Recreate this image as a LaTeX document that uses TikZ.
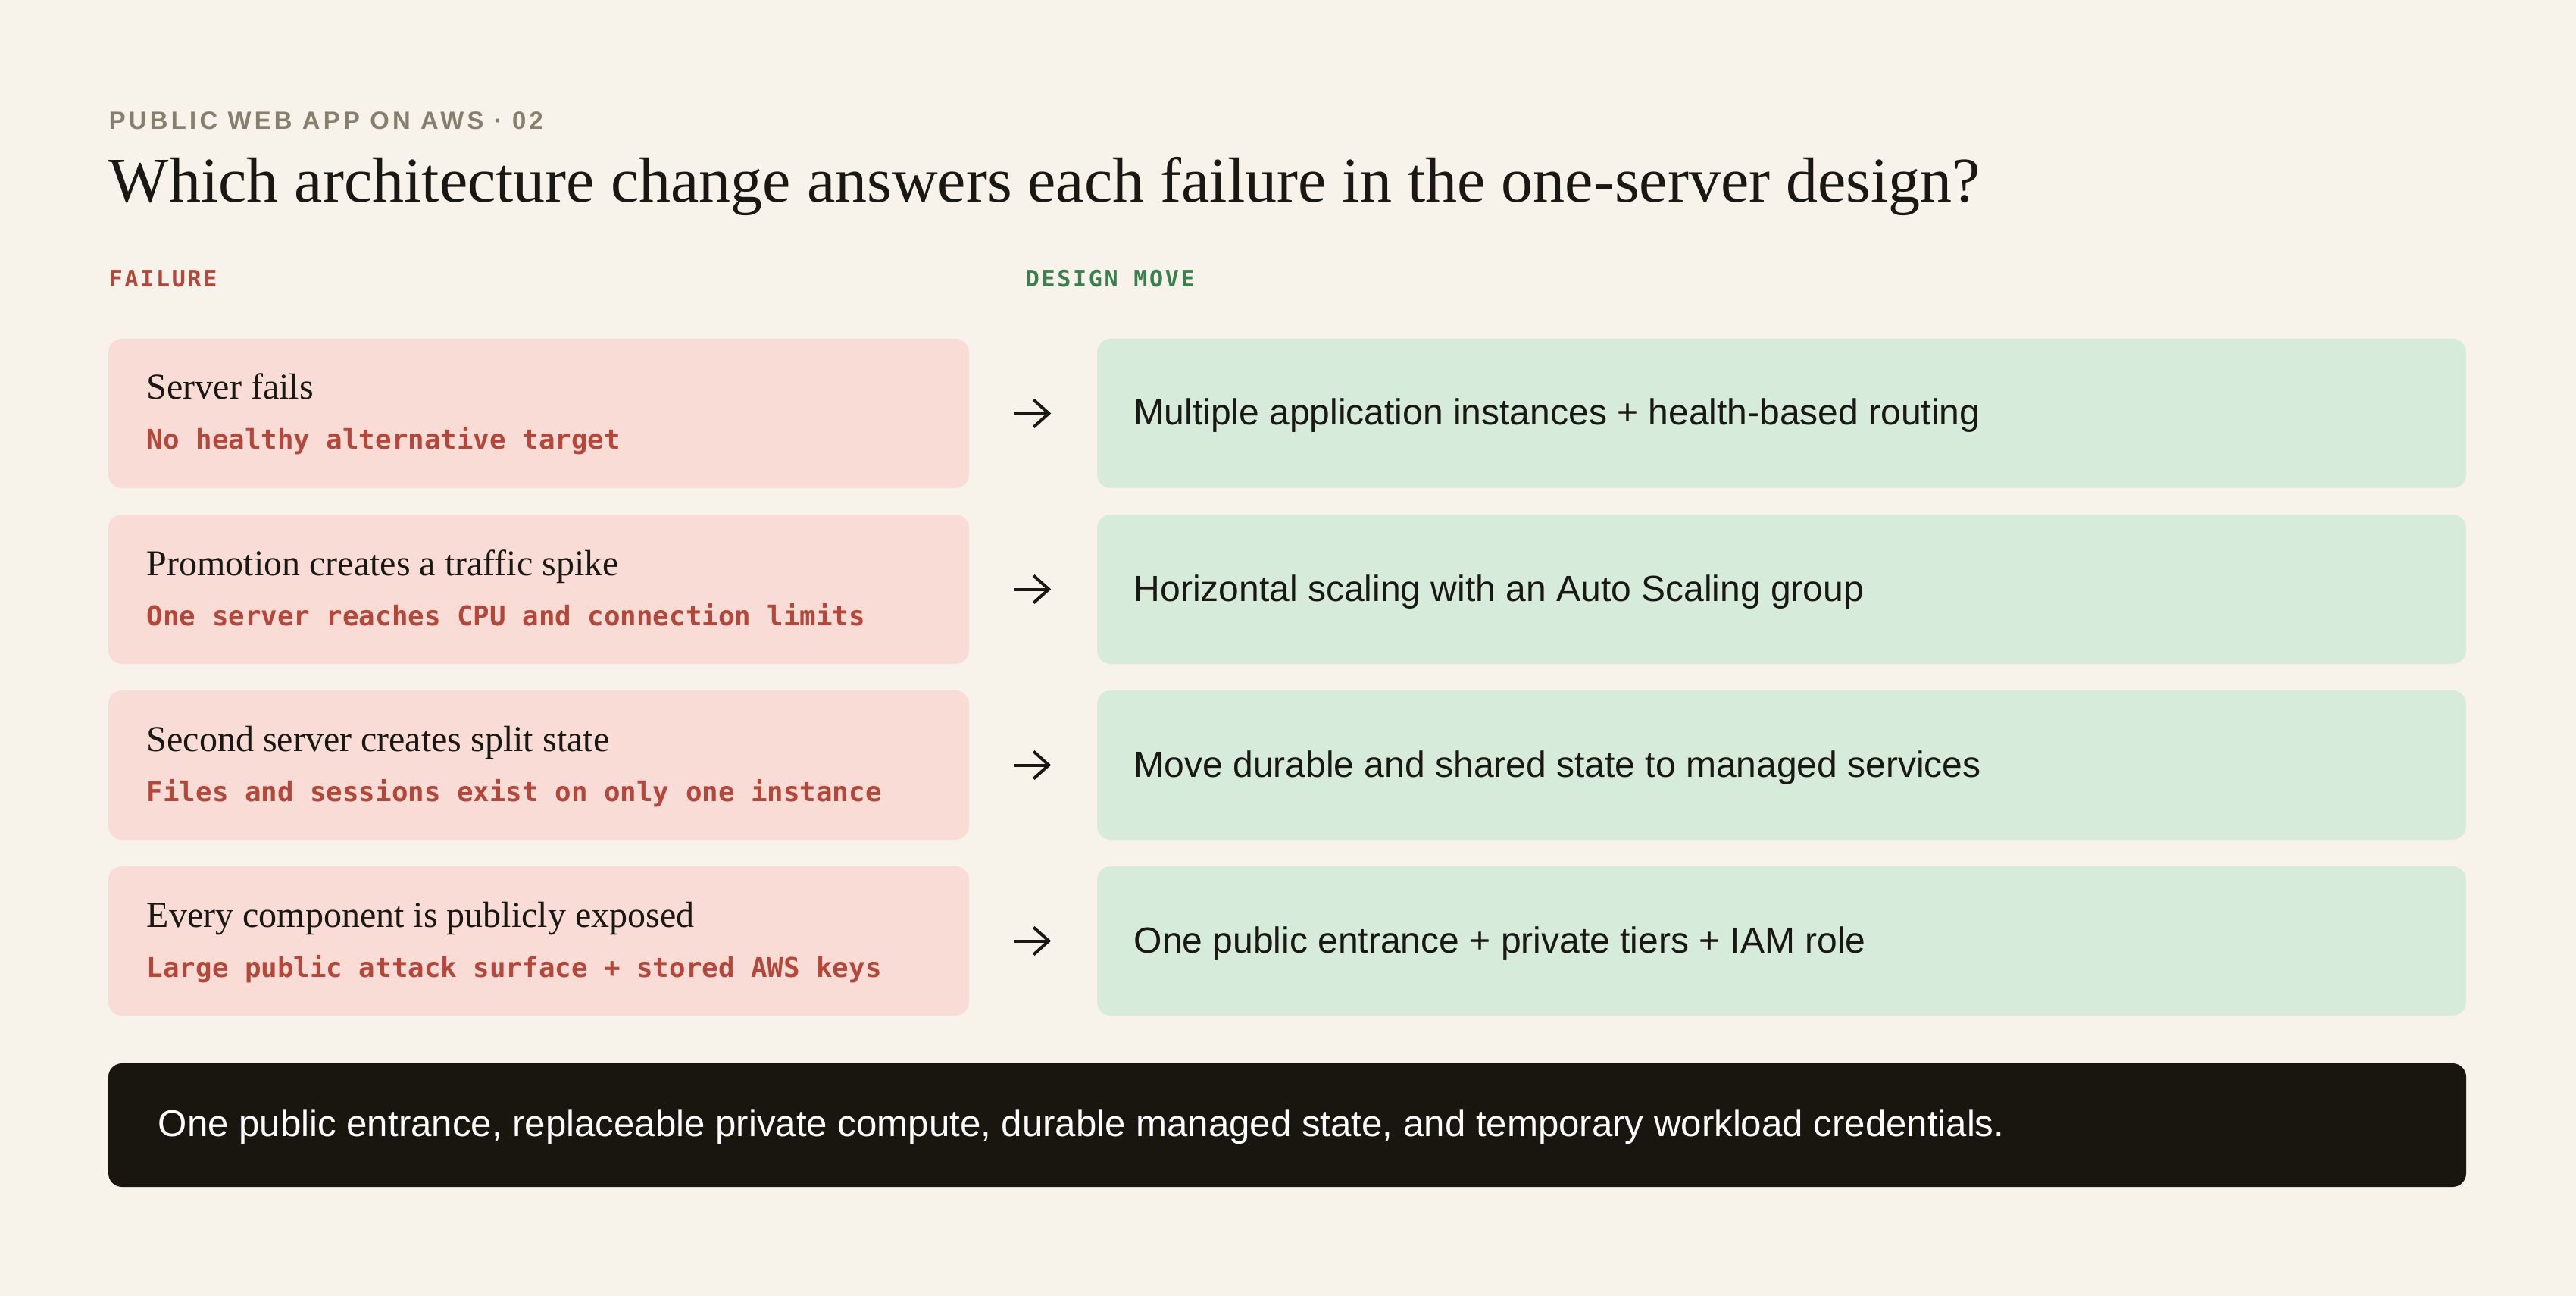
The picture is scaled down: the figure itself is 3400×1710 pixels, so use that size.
\documentclass[tikz,border=0pt]{standalone}
\usepackage{fontspec}
\setmainfont{Liberation Serif}
\setsansfont{Liberation Sans}
\setmonofont{DejaVu Sans Mono}
\newfontfamily\kickerfont[LetterSpace=13]{Liberation Sans}
\newfontfamily\labelfont[LetterSpace=9]{DejaVu Sans Mono}
\definecolor{paper}{HTML}{F7F2EA}
\definecolor{failpink}{HTML}{F9DCD5}
\definecolor{movegreen}{HTML}{D7EBDB}
\definecolor{darkbar}{HTML}{18160F}
\definecolor{ink}{HTML}{1A1814}
\definecolor{failred}{HTML}{B5473A}
\definecolor{movedark}{HTML}{3B7F4E}
\definecolor{kickergray}{HTML}{857F6E}
\usepackage{tikz}
\usetikzlibrary{positioning, arrows.meta}

\tikzset{
  failbox/.style={fill=failpink, rounded corners=4.5pt, minimum width=284pt, minimum height=49.25pt, inner sep=0pt},
  movebox/.style={fill=movegreen, rounded corners=4.5pt, minimum width=451.75pt, minimum height=49.25pt, inner sep=0pt},
  failhead/.style={anchor=base west, inner sep=0pt, font=\fontsize{12}{14}\selectfont, text=ink},
  failnote/.style={anchor=base west, inner sep=0pt, font=\ttfamily\bfseries\fontsize{8.95}{11}\selectfont, text=failred},
  movetext/.style={anchor=base west, inner sep=0pt, font=\sffamily\fontsize{12}{14}\selectfont, text=ink},
  answer/.style={-{Straight Barb[length=5pt,width=9pt]}, line width=1pt, draw=ink, shorten <=14.75pt, shorten >=15pt}
}

\begin{document}
\begin{tikzpicture}[x=0.25pt, y=-0.25pt]
            \fill[paper] (0,0) rectangle (3400,1710);
            \useasboundingbox (0,0) rectangle (3400,1710);
            % heading
            \node[anchor=base west, inner sep=0pt, font=\kickerfont\bfseries\fontsize{8.2}{10}\selectfont, text=kickergray] (kicker) at (143,171) {PUBLIC WEB APP ON AWS · 02};
            \node[anchor=base west, inner sep=0pt, font=\fontsize{21}{25}\selectfont, text=ink] (title) at (143,267) {Which architecture change answers each failure in the one-server design?};
            \node[anchor=base west, inner sep=0pt, font=\labelfont\bfseries\fontsize{7.5}{9}\selectfont, text=failred] (hdfail) at (143,379) {FAILURE};
            \node[anchor=base west, inner sep=0pt, font=\labelfont\bfseries\fontsize{7.5}{9}\selectfont, text=movedark] (hdmove) at (1353,379) {DESIGN MOVE};
            % rows
            \node[failbox] (fail1) at (711,545.5) {};
            \node[failbox] (fail2) at (711,777.5) {};
            \node[failbox] (fail3) at (711,1009.5) {};
            \node[failbox] (fail4) at (711,1241.5) {};
            \node[movebox] (move1) at (2351.5,545.5) {};
            \node[movebox] (move2) at (2351.5,777.5) {};
            \node[movebox] (move3) at (2351.5,1009.5) {};
            \node[movebox] (move4) at (2351.5,1241.5) {};
            \node[failhead] (fail1head) at (193,527) {Server fails};
            \node[failnote] (fail1note) at (193,593) {No healthy alternative target};
            \node[failhead] (fail2head) at (193,759) {Promotion creates a traffic spike};
            \node[failnote] (fail2note) at (193,825) {One server reaches CPU and connection limits};
            \node[failhead] (fail3head) at (193,991) {Second server creates split state};
            \node[failnote] (fail3note) at (193,1057) {Files and sessions exist on only one instance};
            \node[failhead] (fail4head) at (193,1223) {Every component is publicly exposed};
            \node[failnote] (fail4note) at (193,1289) {Large public attack surface + stored AWS keys};
            \node[movetext] (move1text) at (1496,561) {Multiple application instances + health-based routing};
            \node[movetext] (move2text) at (1496,793) {Horizontal scaling with an Auto Scaling group};
            \node[movetext] (move3text) at (1496,1025) {Move durable and shared state to managed services};
            \node[movetext] (move4text) at (1496,1257) {One public entrance + private tiers + IAM role};
            \draw[answer] (fail1) -- (move1);
            \draw[answer] (fail2) -- (move2);
            \draw[answer] (fail3) -- (move3);
            \draw[answer] (fail4) -- (move4);
            % summary
            \node[fill=darkbar, rounded corners=4.5pt, minimum width=778pt, minimum height=40.75pt, inner sep=0pt] (summary) at (1699,1484.5) {};
            \node[anchor=base west, inner sep=0pt, font=\sffamily\fontsize{12.3}{14}\selectfont, text=white] (summarytext) at (208,1499) {One public entrance, replaceable private compute, durable managed state, and temporary workload credentials.};
        \end{tikzpicture}
\end{document}
